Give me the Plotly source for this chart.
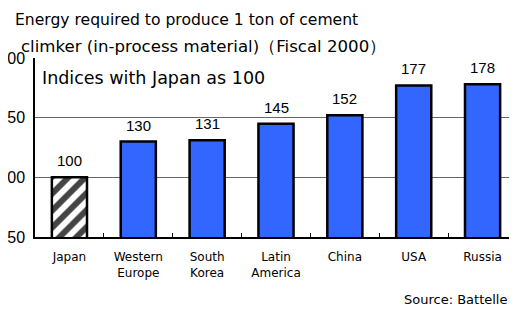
import plotly.graph_objects as go

categories = ["Japan", "Western<br>Europe", "South<br>Korea", "Latin<br>America", "China", "USA", "Russia"]
values = [100, 130, 131, 145, 152, 177, 178]
tick_vals = [50, 100, 150, 200]

# The page body adds an 8px offset; work in window pixels and convert.
OFF = 8
W, H = 517, 309
# plot area in window pixels: x 35..517, y 58..237
L, R, T, B = 35 - OFF, OFF, 58 - OFF, H - (237 - OFF)
PW, PH = W - L - R, H - T - B

def px_x(px):
    return (px - OFF - L) / PW

def px_y(py):
    return (H - B - (py - OFF)) / PH

colors = ["white"] + ["#3366FF"] * (len(values) - 1)
shapes = ["/"] + [""] * (len(values) - 1)

fig = go.Figure()
fig.add_trace(go.Bar(
    x=categories, y=values,
    marker=dict(color=colors, line=dict(color="black", width=2.5),
                pattern=dict(shape=shapes, fgcolor="black", bgcolor="white", fgopacity=1,
                             size=12, solidity=0.5)),
    width=0.51,
    hoverinfo="skip",
))

annotations = []
for c, v in zip(categories, values):
    annotations.append(dict(x=c, y=v, xref="x", yref="y", text=str(v), showarrow=False,
                            yanchor="bottom", yshift=6,
                            font=dict(family="Liberation Sans", size=15, color="black")))

annotations += [
    dict(x=px_x(13), y=px_y(20), xref="paper", yref="paper", xanchor="left", yanchor="middle",
         text="Energy required to produce 1 ton of cement", showarrow=False,
         font=dict(family="DejaVu Sans", size=15.6, color="black")),
    dict(x=px_x(19), y=px_y(46), xref="paper", yref="paper", xanchor="left", yanchor="middle",
         text="climker (in-process material)（Fiscal 2000）", showarrow=False,
         font=dict(family="DejaVu Sans", size=16.6, color="black")),
    dict(x=px_x(40), y=px_y(78), xref="paper", yref="paper", xanchor="left", yanchor="middle",
         text="Indices with Japan as 100", showarrow=False,
         font=dict(family="DejaVu Sans", size=17.5, color="black")),
    dict(x=px_x(509), y=px_y(299), xref="paper", yref="paper", xanchor="right", yanchor="middle",
         text="Source: Battelle", showarrow=False,
         font=dict(family="DejaVu Sans", size=13, color="black")),
]

fig.update_layout(
    width=W, height=H,
    margin=dict(l=L, r=R, t=T, b=B, pad=0, autoexpand=False),
    paper_bgcolor="white", plot_bgcolor="white",
    showlegend=False,
    annotations=annotations,
    xaxis=dict(showline=True, linecolor="black", linewidth=1.5, mirror=False, automargin=False,
               ticks="inside", tickson="boundaries", ticklen=4, tickcolor="black",
               showgrid=False, ticklabelstandoff=8,
               tickfont=dict(family="DejaVu Sans", size=12, color="black")),
    yaxis=dict(range=[50, 200], tickvals=tick_vals, showline=True, linecolor="black", linewidth=1.5,
               automargin=False,
               showgrid=True, gridcolor="#666666", gridwidth=1, zeroline=False,
               ticks="", ticklabelstandoff=5,
               tickfont=dict(family="Liberation Sans", size=16, color="black")),
)

fig.write_html("out.html")
